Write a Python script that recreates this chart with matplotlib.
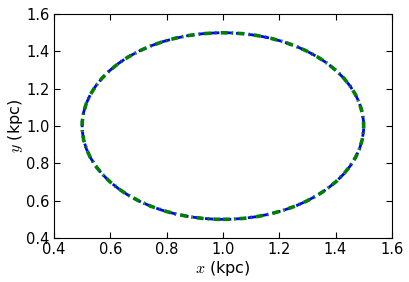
import matplotlib
matplotlib.use("Agg")
import matplotlib.pyplot as plt
from matplotlib.patches import Ellipse

plt.rcParams['mathtext.fontset'] = 'cm'
plt.rcParams['font.size'] = 10.5
plt.rcParams['lines.scale_dashes'] = False

center = (1.0, 1.0)
width = 1.0   # full x extent (kpc)
height = 1.0  # full y extent (kpc)

series = [
    dict(color='blue', ls=(0, (6, 3)), lw=2.0),
    dict(color='green', ls=(0, (5, 3, 1, 3)), lw=2.6),
]

xticks = [0.4, 0.6, 0.8, 1.0, 1.2, 1.4, 1.6]
yticks = [0.4, 0.6, 0.8, 1.0, 1.2, 1.4, 1.6]

fig = plt.figure(figsize=(4.09, 2.82), dpi=100)
ax = fig.add_axes([0.132, 0.156, 0.826, 0.794])
for s in series:
    ax.add_patch(Ellipse(center, width, height, fill=False,
                         edgecolor=s['color'], linestyle=s['ls'], linewidth=s['lw']))
ax.set_xlim(0.4, 1.6)
ax.set_ylim(0.4, 1.6)
ax.set_xticks(xticks)
ax.set_yticks(yticks)
ax.set_xticklabels([f"{t:.1f}" for t in xticks])
ax.set_yticklabels([f"{t:.1f}" for t in yticks])
ax.tick_params(direction='in', top=True, right=True, length=4, pad=3)
ax.set_xlabel(r"$x$ (kpc)", fontsize=11.5, labelpad=1)
ax.set_ylabel(r"$y$ (kpc)", fontsize=11.5, labelpad=1)
fig.savefig("out.png", dpi=100)
